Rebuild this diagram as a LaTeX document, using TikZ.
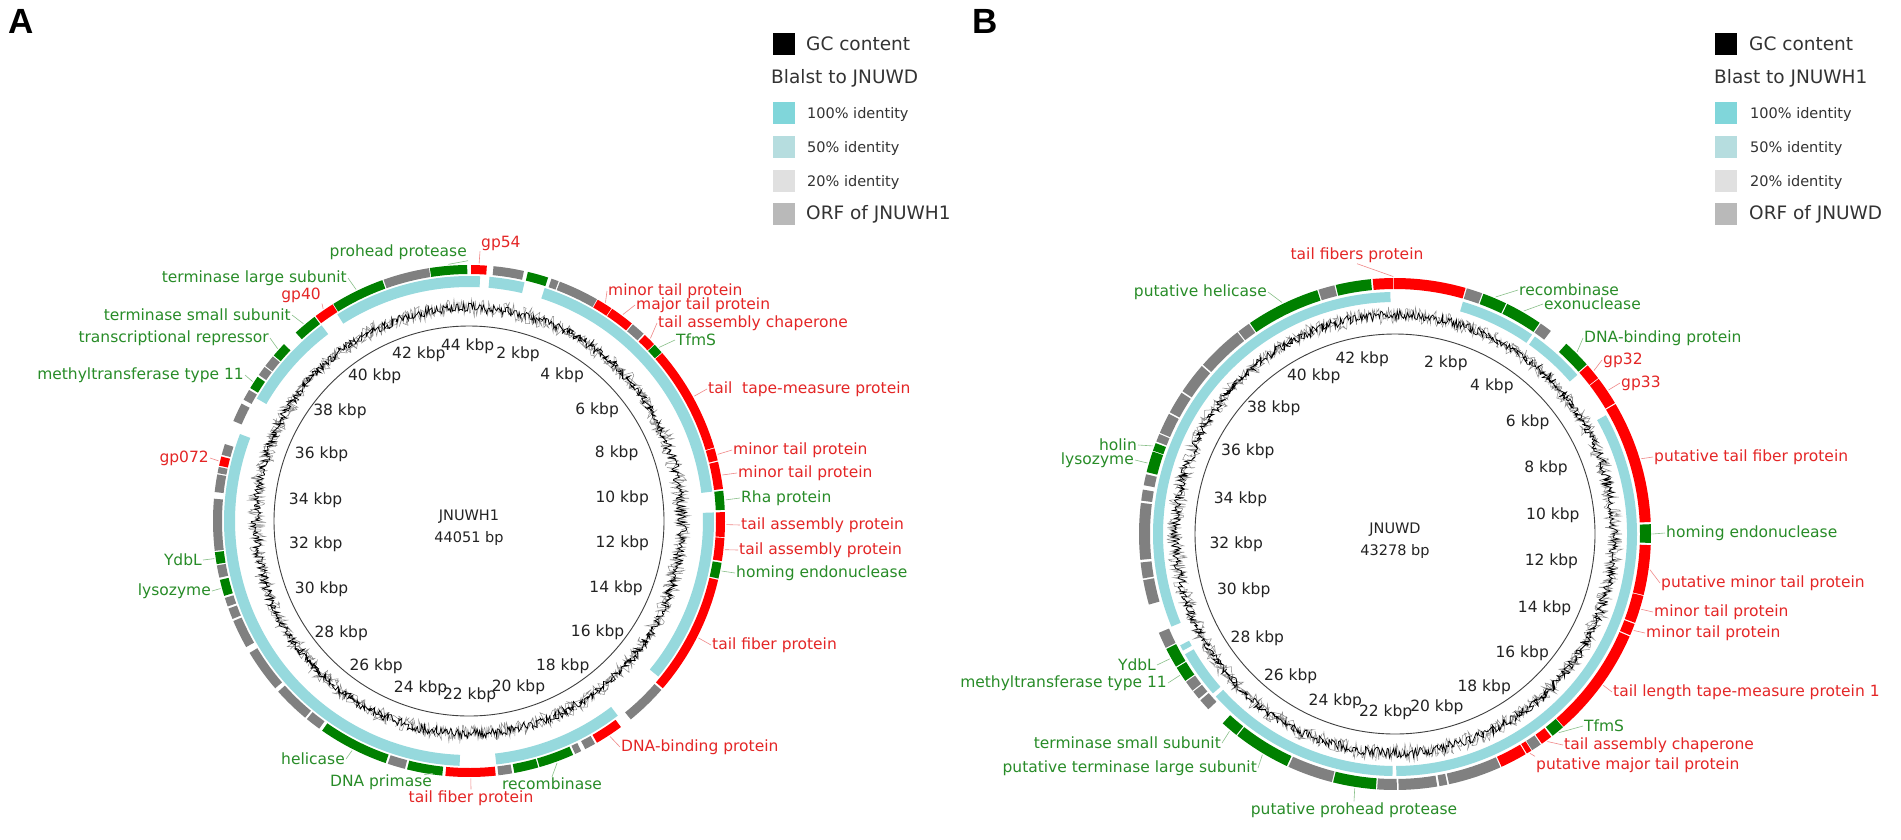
\documentclass[tikz,border=0pt]{standalone}
\usepackage{fontspec}
\setmainfont{DejaVu Sans}
\newfontfamily\letterfont{Liberation Sans}
\definecolor{cyanring}{RGB}{150,217,221}
\definecolor{leg100}{RGB}{128,214,218}
\definecolor{leg50}{RGB}{182,221,223}
\definecolor{leg20}{RGB}{224,224,224}
\definecolor{legorf}{RGB}{185,185,185}
\definecolor{gy}{RGB}{128,128,128}
\definecolor{gn}{RGB}{0,128,0}
\definecolor{rd}{RGB}{255,0,0}
\definecolor{txtgn}{RGB}{40,140,40}
\definecolor{txtrd}{RGB}{228,38,38}
\definecolor{ticktxt}{RGB}{35,35,35}
\tikzset{
  labtxt/.style={font=\fontsize{15.5}{18}\selectfont, inner sep=1pt},
  labG/.style={labtxt, text=txtgn},
  labR/.style={labtxt, text=txtrd},
  leadG/.style={draw=txtgn!55, line width=0.6pt},
  leadR/.style={draw=txtrd!55, line width=0.6pt},
  ticklab/.style={font=\fontsize{15.5}{17}\selectfont, text=ticktxt, inner sep=1pt},
  centrelab/.style={font=\fontsize{14.5}{17}\selectfont, text=ticktxt, inner sep=0pt},
  legbig/.style={font=\fontsize{18.5}{21}\selectfont, text=black!80, inner sep=0pt},
  legsmall/.style={font=\fontsize{14.5}{17}\selectfont, text=black!80, inner sep=0pt},
  legsq/.style={minimum size=22pt, inner sep=0pt},
  panellet/.style={font=\letterfont\bfseries\fontsize{35}{40}\selectfont, inner sep=0pt}
}
\newcommand{\arcblock}[5]{%
  \pgfmathsetmacro\arcS{90-#2}\pgfmathsetmacro\arcE{90-#3}%
  \fill[#1] (\arcS:#4) arc[start angle=\arcS, end angle=\arcE, radius=#4]
     -- (\arcE:#5) arc[start angle=\arcE, end angle=\arcS, radius=#5] -- cycle;}
\begin{document}
\begin{tikzpicture}[x=1pt,y=1pt]
\useasboundingbox (0,0) rectangle (1901,-839);
\fill[white] (0,0) rectangle (1901,-839);

% panel letters
\node[panellet, anchor=base west] (letA) at (8,-33) {A};
\node[panellet, anchor=base west] (letB) at (972,-33) {B};

% ---------- legends ----------
\node[legsq, fill=black] (kA1) at (784,-44) {};
\node[legbig, anchor=west] (lgA1) at (806,-44) {GC content};
\node[legbig, anchor=west] (lgA0) at (771,-78) {Blalst to JNUWD};
\node[legsq, fill=leg100] (kA2) at (784,-113) {};
\node[legsmall, anchor=west] (lgA2) at (807,-114) {100\% identity};
\node[legsq, fill=leg50] (kA3) at (784,-147) {};
\node[legsmall, anchor=west] (lgA3) at (807,-148) {50\% identity};
\node[legsq, fill=leg20] (kA4) at (784,-181) {};
\node[legsmall, anchor=west] (lgA4) at (807,-182) {20\% identity};
\node[legsq, fill=legorf] (kA5) at (784,-214) {};
\node[legbig, anchor=west] (lgA5) at (806,-214) {ORF of JNUWH1};

\node[legsq, fill=black] (kB1) at (1726,-44) {};
\node[legbig, anchor=west] (lgB1) at (1749,-44) {GC content};
\node[legbig, anchor=west] (lgB0) at (1714,-78) {Blast to JNUWH1};
\node[legsq, fill=leg100] (kB2) at (1726,-113) {};
\node[legsmall, anchor=west] (lgB2) at (1750,-114) {100\% identity};
\node[legsq, fill=leg50] (kB3) at (1726,-147) {};
\node[legsmall, anchor=west] (lgB3) at (1750,-148) {50\% identity};
\node[legsq, fill=leg20] (kB4) at (1726,-181) {};
\node[legsmall, anchor=west] (lgB4) at (1750,-182) {20\% identity};
\node[legsq, fill=legorf] (kB5) at (1726,-214) {};
\node[legbig, anchor=west] (lgB5) at (1749,-214) {ORF of JNUWD};

% ---------- panel A map ----------
\begin{scope}[shift={(469,-521)}]
  \draw[black!75, line width=0.9pt] (0,0) circle[radius=195];
  \pgfmathsetseed{11}
  \draw[black!45, line width=0.5pt] plot[domain=0:360, samples=1500] (\x:{213+18*rnd-9}) -- cycle;
  \draw[black, line width=0.75pt] plot[domain=0:360, samples=1100] (\x:{213+10*rnd-5}) -- cycle;
  \foreach \s/\e in {327.5/362.6, 364.8/373.1, 18/83.1, 88/129.4, 142.6/173.6, 182.2/290.8, 300/323}
    {\arcblock{cyanring}{\s}{\e}{234}{245}}
  \foreach \c/\s/\e in {rd/0.5/4, gy/5.5/12.4, gn/13.3/18, gy/18.8/20.5, gy/20.8/30, rd/30.2/33.8, rd/34/39.5, gy/39.8/43, rd/43.4/46.3, gn/46.5/48.8, rd/49/73.3, rd/73.5/76.3, rd/76.6/82.8, gn/83.2/87.5, rd/88/93.6, rd/93.8/99, gn/99.4/103, rd/103.3/130.8, gy/131.3/140.8, rd/143.6/150, gy/150.5/153, gy/154/155.5, gn/156/164, gn/164.3/169.8, gy/170.3/173.4, rd/174/185.3, gn/186/194, gy/194.5/198.5, gn/199/215, gy/215.8/219.3, gy/219.8/228.2, gy/229.2/239, gy/240.5/247, gy/247.5/250, gy/250.5/252.5, gn/253/256.7, gy/257.2/260, gn/260.3/263, gy/263.3/275, gy/276.5/280.5, gy/280.8/282.2, rd/282.5/284.6, gy/285/287.5, gy/293/297.3, gy/298.3/300.8, gn/301.3/304.3, gy/304.8/307, gy/307.3/310, gn/310.3/313.7, gn/317.4/322.9, rd/323.2/327.8, gn/328/340.2, gy/340.5/351, gn/351.2/359.6}
    {\arcblock{\c}{\s}{\e}{247}{256}}
  \foreach \n/\p in {pa1/355.4, pa2/2.25, pa3/32, pa4/36.7, pa5/44.8, pa6/47.6, pa7/61, pa8/75, pa9/79.7, pa10/85.3, pa11/90.8, pa12/96.4, pa13/101.2, pa14/117, pa15/146.8, pa16/160, pa17/179.6, pa18/190, pa19/207, pa20/254.8, pa21/261.6, pa22/283.5, pa23/302.8, pa24/312, pa25/320, pa26/325.5, pa27/334}
    {\coordinate (\n) at ({90-\p}:257.5);}
  \foreach \k in {2,4,...,44} {
    \pgfmathsetmacro\ang{90-\k*360/44.051}
    \pgfmathtruncatemacro\anc{mod(round(\ang)+720,360)}
    \node[ticklab, anchor=\anc] (tA\k) at (\ang:183) {\k\ kbp};
  }
  \node[centrelab] (cA1) at (0,4) {JNUWH1};
  \node[centrelab] (cA2) at (0,-17) {44051 bp};
\end{scope}

% panel A labels
\node[labG, anchor=east] (la1) at (468,-252) {prohead protease};
\node[labR, anchor=west] (la2) at (480,-243) {gp54};
\node[labR, anchor=west] (la3) at (607,-291) {minor tail protein};
\node[labR, anchor=west] (la4) at (635,-305) {major tail protein};
\node[labR, anchor=west] (la5) at (657,-323) {tail assembly chaperone};
\node[labG, anchor=west] (la6) at (675,-340) {TfmS};
\node[labR, anchor=west] (la7) at (707,-389) {tail\ \ tape-measure protein};
\node[labR, anchor=west] (la8) at (732,-450) {minor tail protein};
\node[labR, anchor=west] (la9) at (737,-473) {minor tail protein};
\node[labG, anchor=west] (la10) at (740,-498) {Rha protein};
\node[labR, anchor=west] (la11) at (740,-525) {tail assembly protein};
\node[labR, anchor=west] (la12) at (738,-550) {tail assembly protein};
\node[labG, anchor=west] (la13) at (735,-573) {homing endonuclease};
\node[labR, anchor=west] (la14) at (711,-645) {tail fiber protein};
\node[labR, anchor=west] (la15) at (620,-747) {DNA-binding protein};
\node[labG] (la16) at (552,-784) {recombinase};
\node[labR] (la17) at (471,-798) {tail fiber protein};
\node[labG] (la18) at (381,-782) {DNA primase};
\node[labG, anchor=east] (la19) at (346,-759) {helicase};
\node[labG, anchor=east] (la20) at (212,-591) {lysozyme};
\node[labG, anchor=east] (la21) at (203,-560) {YdbL};
\node[labR, anchor=east] (la22) at (210,-458) {gp072};
\node[labG, anchor=east] (la23) at (245,-375) {methyltransferase type 11};
\node[labG, anchor=east] (la24) at (270,-338) {transcriptional repressor};
\node[labG, anchor=east] (la25) at (292,-315) {terminase small subunit};
\node[labR, anchor=east] (la26) at (322,-295) {gp40};
\node[labG, anchor=east] (la27) at (348,-278) {terminase large subunit};

\draw[leadG] (la1.south east) -- (pa1);
\draw[leadR] (la2.south west) -- (pa2);
\draw[leadR] (la3.west) -- (pa3);
\draw[leadR] (la4.west) -- (pa4);
\draw[leadR] (la5.west) -- (pa5);
\draw[leadG] (la6.west) -- (pa6);
\draw[leadR] (la7.west) -- (pa7);
\draw[leadR] (la8.west) -- (pa8);
\draw[leadR] (la9.west) -- (pa9);
\draw[leadG] (la10.west) -- (pa10);
\draw[leadR] (la11.west) -- (pa11);
\draw[leadR] (la12.west) -- (pa12);
\draw[leadG] (la13.west) -- (pa13);
\draw[leadR] (la14.west) -- (pa14);
\draw[leadR] (la15.west) -- (pa15);
\draw[leadG] (la16.north) -- (pa16);
\draw[leadR] (la17.north) -- (pa17);
\draw[leadG] (la18.north east) -- (pa18);
\draw[leadG] (la19.east) -- (pa19);
\draw[leadG] (la20.east) -- (pa20);
\draw[leadG] (la21.east) -- (pa21);
\draw[leadR] (la22.east) -- (pa22);
\draw[leadG] (la23.east) -- (pa23);
\draw[leadG] (la24.east) -- (pa24);
\draw[leadG] (la25.east) -- (pa25);
\draw[leadR] (la26.south east) -- (pa26);
\draw[leadG] (la27.east) -- (pa27);

% ---------- panel B map ----------
\begin{scope}[shift={(1395,-534)}]
  \draw[black!75, line width=0.9pt] (0,0) circle[radius=200];
  \pgfmathsetseed{23}
  \draw[black!45, line width=0.5pt] plot[domain=0:360, samples=1500] (\x:{219+18*rnd-9}) -- cycle;
  \draw[black, line width=0.75pt] plot[domain=0:360, samples=1100] (\x:{219+10*rnd-5}) -- cycle;
  \foreach \s/\e in {16.3/34.5, 35.3/48.9, 60.6/179.7, 180.6/227.8, 228.8/240.2, 241.2/242.6, 247.5/358.9}
    {\arcblock{cyanring}{\s}{\e}{232}{242}}
  \foreach \c/\s/\e in {rd/355/359.5, rd/359.7/376, gy/16.3/19.9, gn/20.2/25.7, gn/26/34.4, gy/34.7/37.5, gn/42/48.5, rd/48.8/52.5, rd/52.7/59.2, rd/59.5/87.3, gn/87.8/92, rd/92.5/103.8, rd/104/110.3, rd/110.6/113.3, rd/113.6/138.8, gn/139/142, rd/142.4/145, gy/145.3/147.6, rd/147.8/149, rd/149.3/155.4, gy/155.7/167.8, gy/168.2/170, gy/170.5/179.2, gy/179.6/184, gn/184.3/194, gy/194.3/204.6, gn/205/218, gn/218.3/222.3, gy/226.8/229.5, gy/230/232, gy/232.3/234.7, gn/235/238.5, gn/238.8/243.3, gy/243.6/247.3, gy/254/259.6, gy/260/263.6, gy/264.2/277, gy/277.5/280, gy/281/283.5, gn/284/288.8, gn/289/290.8, gy/291.2/293, gy/293.3/298, gy/298.4/303.5, gy/303.9/311, gy/311.4/322, gy/322.3/325.2, gn/325.5/342.3, gy/342.6/346.3, gn/346.6/354.6}
    {\arcblock{\c}{\s}{\e}{245}{256}}
  \foreach \n/\p in {pb1/359.6, pb2/334, pb3/23, pb4/30, pb5/45, pb6/50.6, pb7/56, pb8/73, pb9/90, pb10/98, pb11/107, pb12/112, pb13/126, pb14/140.5, pb15/143.7, pb16/148.4, pb17/189, pb18/211, pb19/220, pb20/236.7, pb21/241, pb22/286, pb23/290}
    {\coordinate (\n) at ({90-\p}:257.5);}
  \foreach \k in {2,4,...,42} {
    \pgfmathsetmacro\ang{90-\k*360/43.278}
    \pgfmathtruncatemacro\anc{mod(round(\ang)+720,360)}
    \node[ticklab, anchor=\anc] (tB\k) at (\ang:187) {\k\ kbp};
  }
  \node[centrelab] (cB1) at (0,4) {JNUWD};
  \node[centrelab] (cB2) at (0,-17) {43278 bp};
\end{scope}

% panel B labels
\node[labR] (lb1) at (1357,-255) {tail fibers protein};
\node[labG, anchor=east] (lb2) at (1268,-292) {putative helicase};
\node[labG, anchor=west] (lb3) at (1518,-290) {recombinase};
\node[labG, anchor=west] (lb4) at (1543,-304) {exonuclease};
\node[labG, anchor=west] (lb5) at (1583,-338) {DNA-binding protein};
\node[labR, anchor=west] (lb6) at (1602,-360) {gp32};
\node[labR, anchor=west] (lb7) at (1620,-383) {gp33};
\node[labR, anchor=west] (lb8) at (1653,-457) {putative tail fiber protein};
\node[labG, anchor=west] (lb9) at (1665,-533) {homing endonuclease};
\node[labR, anchor=west] (lb10) at (1660,-583) {putative minor tail protein};
\node[labR, anchor=west] (lb11) at (1653,-612) {minor tail protein};
\node[labR, anchor=west] (lb12) at (1645,-633) {minor tail protein};
\node[labR, anchor=west] (lb13) at (1612,-692) {tail length tape-measure protein 1};
\node[labG, anchor=west] (lb14) at (1583,-726) {TfmS};
\node[labR, anchor=west] (lb15) at (1563,-745) {tail assembly chaperone};
\node[labR, anchor=west] (lb16) at (1535,-765) {putative major tail protein};
\node[labG] (lb17) at (1354,-810) {putative prohead protease};
\node[labG, anchor=east] (lb18) at (1258,-768) {putative terminase large subunit};
\node[labG, anchor=east] (lb19) at (1222,-743) {terminase small subunit};
\node[labG, anchor=east] (lb20) at (1168,-683) {methyltransferase type 11};
\node[labG, anchor=east] (lb21) at (1157,-665) {YdbL};
\node[labG, anchor=east] (lb22) at (1135,-460) {lysozyme};
\node[labG, anchor=east] (lb23) at (1138,-445) {holin};

\draw[leadR] (lb1.south) -- (pb1);
\draw[leadG] (lb2.east) -- (pb2);
\draw[leadG] (lb3.west) -- (pb3);
\draw[leadG] (lb4.west) -- (pb4);
\draw[leadG] (lb5.west) -- (pb5);
\draw[leadR] (lb6.west) -- (pb6);
\draw[leadR] (lb7.west) -- (pb7);
\draw[leadR] (lb8.west) -- (pb8);
\draw[leadG] (lb9.west) -- (pb9);
\draw[leadR] (lb10.west) -- (pb10);
\draw[leadR] (lb11.west) -- (pb11);
\draw[leadR] (lb12.west) -- (pb12);
\draw[leadR] (lb13.west) -- (pb13);
\draw[leadG] (lb14.west) -- (pb14);
\draw[leadR] (lb15.west) -- (pb15);
\draw[leadR] (lb16.north west) -- (pb16);
\draw[leadG] (lb17.north) -- (pb17);
\draw[leadG] (lb18.east) -- (pb18);
\draw[leadG] (lb19.east) -- (pb19);
\draw[leadG] (lb20.east) -- (pb20);
\draw[leadG] (lb21.east) -- (pb21);
\draw[leadG] (lb22.east) -- (pb22);
\draw[leadG] (lb23.east) -- (pb23);
\end{tikzpicture}
\end{document}
